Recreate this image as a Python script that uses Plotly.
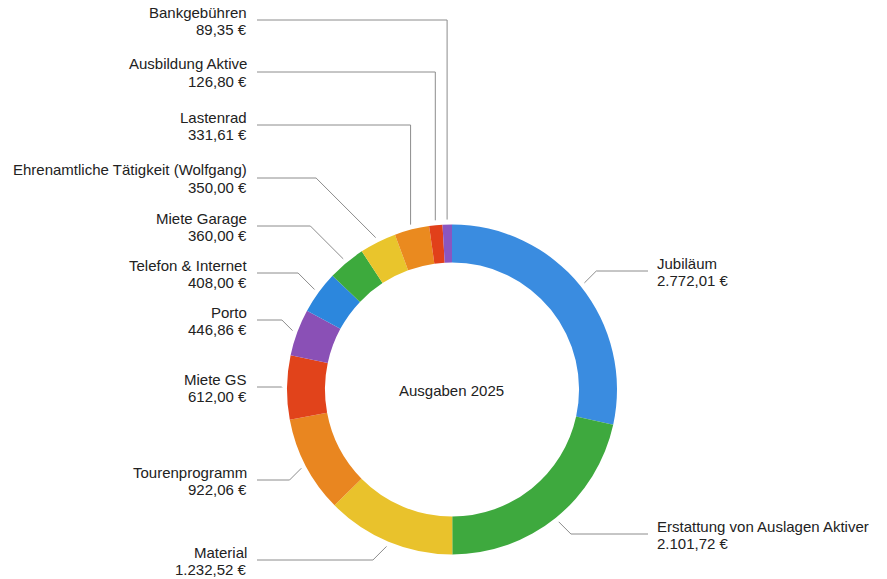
import math
import plotly.graph_objects as go

# ---------------- data ----------------
categories = ["Jubiläum", "Erstattung von Auslagen Aktiver", "Material", "Tourenprogramm",
              "Miete GS", "Porto", "Telefon & Internet", "Miete Garage",
              "Ehrenamtliche Tätigkeit (Wolfgang)", "Lastenrad", "Ausbildung Aktive", "Bankgebühren"]
values = [2772.01, 2101.72, 1232.52, 922.06, 612.00, 446.86, 408.00, 360.00,
          350.00, 331.61, 126.80, 89.35]
value_labels = ["2.772,01 €", "2.101,72 €", "1.232,52 €", "922,06 €", "612,00 €", "446,86 €",
                "408,00 €", "360,00 €", "350,00 €", "331,61 €", "126,80 €", "89,35 €"]
title_text = "Ausgaben 2025"

# ---------------- styles / layout ----------------
colors = ["#3a8ce0", "#3ea93e", "#e9c22c", "#e98620", "#e1431b", "#8a50b6",
          "#2c87dd", "#3daa3d", "#e9c52c", "#ea8a1f", "#e1401a", "#8a56c0"]
PAGE_W, PAGE_H = 887, 579
OFF = 8  # default page body margin
FW, FH = PAGE_W - OFF, PAGE_H - OFF
CX, CY, R = 452.0, 389.5, 165.0
HOLE = 0.77
GAP = 5.0
# label leader y (page px from top) and routing style, per category
label_y = [271, 534, 560, 480, 387, 320, 273, 226, 178, 125, 72, 20]
label_side = ["R", "R", "L", "L", "L", "L", "L", "L", "L", "L", "L", "L"]
label_route = ["diag", "diag", "diag", "diag", "diag", "diag", "diag", "diag", "diag", "vert", "vert", "vert"]
LEFT_LINE_X, LEFT_TEXT_X = 257, 249
RIGHT_LINE_X, RIGHT_TEXT_X = 648, 655
NAME_DY, VALUE_DY = -8, 9.5
FONT = "Liberation Sans, Arial, Helvetica, sans-serif"
FONT_SIZE = 15
TEXT_COLOR = "#222222"
LINE_COLOR = "#8c8c8c"


def px(x):
    return (x - OFF) / FW


def py(y):
    return 1 - (y - OFF) / FH


fig = go.Figure()
fig.add_trace(go.Pie(
    labels=categories, values=values, sort=False, direction="clockwise", rotation=0,
    hole=HOLE, marker=dict(colors=colors, line=dict(width=0)),
    textinfo="none", hoverinfo="label+value", showlegend=False,
    domain=dict(x=[px(CX - R), px(CX + R)], y=[py(CY + R), py(CY - R)]),
))

total = sum(values)
cum = 0.0
shapes = []
annotations = []
for i, v in enumerate(values):
    mid = (cum + v / 2) / total
    cum += v
    ang = 2 * math.pi * mid
    ax = CX + (R + GAP) * math.sin(ang)
    ay = CY - (R + GAP) * math.cos(ang)
    ly = label_y[i]
    side = label_side[i]
    if label_route[i] == "vert":
        ex, ey = ax, ly
    else:
        d = abs(ly - ay)
        ex = ax - d if side == "L" else ax + d
        ey = ly
    endx = LEFT_LINE_X if side == "L" else RIGHT_LINE_X
    path = f"M {px(ax)} {py(ay)} L {px(ex)} {py(ey)} L {px(endx)} {py(ly)}"
    shapes.append(dict(type="path", xref="paper", yref="paper", path=path,
                       line=dict(color=LINE_COLOR, width=1)))
    tx = px(LEFT_TEXT_X if side == "L" else RIGHT_TEXT_X)
    xa = "right" if side == "L" else "left"
    for txt, dy in ((categories[i], NAME_DY), (value_labels[i], VALUE_DY)):
        annotations.append(dict(
            x=tx, y=py(ly + dy), xref="paper", yref="paper",
            xanchor=xa, yanchor="middle", text=txt, showarrow=False,
            font=dict(family=FONT, size=FONT_SIZE, color=TEXT_COLOR)))

annotations.append(dict(x=px(CX), y=py(CY + 1), xref="paper", yref="paper",
                        text=title_text, showarrow=False, xanchor="center", yanchor="middle",
                        font=dict(family=FONT, size=FONT_SIZE, color=TEXT_COLOR)))

fig.update_layout(
    width=FW, height=FH, margin=dict(l=0, r=0, t=0, b=0),
    paper_bgcolor="white", plot_bgcolor="white",
    shapes=shapes, annotations=annotations,
)

fig.write_html("out.html")
